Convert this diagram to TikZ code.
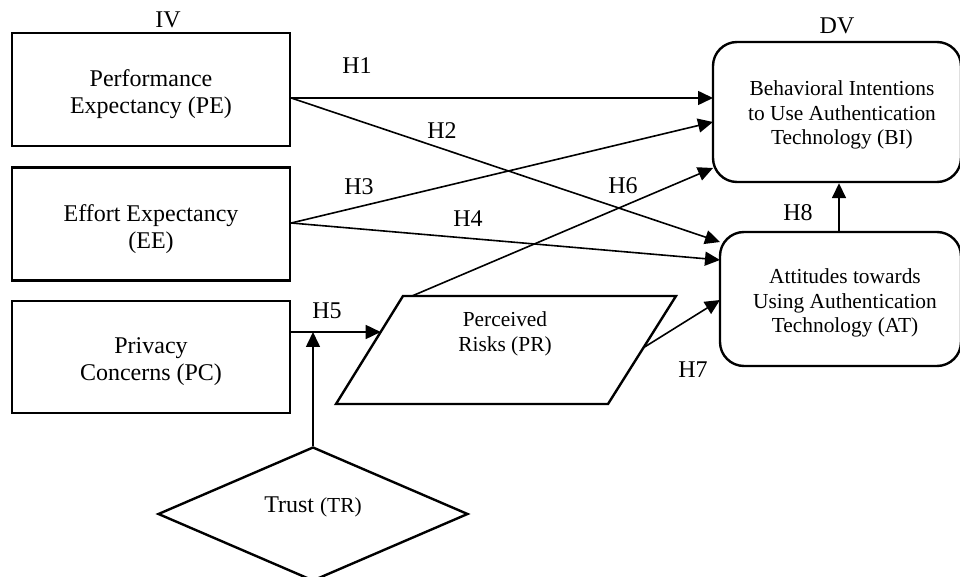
\documentclass[tikz,border=0pt]{standalone}
\usepackage{fontspec}
\setmainfont{Liberation Serif}
\usetikzlibrary{arrows.meta,shapes.geometric}

\begin{document}
\begin{tikzpicture}[x=0.5pt,y=-0.5pt,
  every node/.style={font=\fontsize{12}{13.5}\selectfont},
  smalltext/.style={font=\fontsize{10.7}{12.25}\selectfont},
  sqbox/.style={draw,line width=1.2pt,rectangle,inner sep=0pt,minimum width=139pt},
  rndbox/.style={draw,line width=1.2pt,rectangle,rounded corners=12pt,inner sep=0pt},
  boxtext/.style={align=center,inner sep=0pt},
  link/.style={line width=0.8pt,-{Triangle[length=7.5pt,width=7pt]}},
  hlabel/.style={inner sep=0pt}
]
\useasboundingbox (0,0) rectangle (960,577);

% independent variables
\node[sqbox,minimum height=56.5pt] (PE) at (151,89.5) {};
\node[boxtext] (PEt) at ([yshift=-2.5pt]PE.center) {Performance\\Expectancy (PE)};
\node[sqbox,minimum height=56.5pt] (EE) at (151,224) {};
\node[boxtext] (EEt) at ([yshift=-2.5pt]EE.center) {Effort Expectancy\\(EE)};
\node[sqbox,minimum height=56pt] (PC) at (151,357) {};
\node[boxtext] (PCt) at ([yshift=-2.5pt]PC.center) {Privacy\\Concerns (PC)};
\node[hlabel] (IV) at (168,20) {IV};

% dependent variables
\node[rndbox,minimum width=124pt,minimum height=70pt] (BI) at (837,112) {};
\node[boxtext,smalltext] (BIt) at ([xshift=2.5pt,yshift=-1.5pt]BI.center)
  {Behavioral Intentions\\to Use Authentication\\Technology (BI)};
\node[rndbox,minimum width=120.5pt,minimum height=67pt] (AT) at (840.5,299) {};
\node[boxtext,smalltext] (ATt) at ([xshift=2.25pt,yshift=-2pt]AT.center)
  {Attitudes towards\\Using Authentication\\Technology (AT)};
\node[hlabel] (DV) at (837,26) {DV};

% perceived risks (parallelogram)
\coordinate (PRtl) at (403,296);
\coordinate (PRtr) at (676,296);
\coordinate (PRbr) at (608,404);
\coordinate (PRbl) at (336,404);
\draw[line width=1.2pt,line join=miter] (PRtl) -- (PRtr) -- (PRbr) -- (PRbl) -- cycle;
\node[boxtext,smalltext] (PR) at (505,334) {Perceived\\Risks (PR)};
\coordinate (PRin)  at (380.7,332);
\coordinate (PRtop) at (412,296);
\coordinate (PRout) at (643,348);

% trust (diamond)
\node[draw,diamond,line width=1.2pt,inner sep=0pt,minimum width=155pt,
  minimum height=67pt] (TR) at (313,514) {};
\node (TRtext) at (313,507) {Trust {\fontsize{10.7}{12}\selectfont(TR)}};
\coordinate (H5j) at (313,332);

% hypothesised paths
\draw[link] ([yshift=-4.25pt]PE.east) -- (713,98);
\draw[link] ([yshift=-4.25pt]PE.east) -- (720,242);
\draw[link] ([yshift=0.5pt]EE.east) -- (713,122);
\draw[link] ([yshift=0.5pt]EE.east) -- (720,260);
\draw[link] ([yshift=12.5pt]PC.east) -- (PRin);
\draw[link] (TR.north) -- (H5j);
\draw[link] (PRtop) -- (713,168);
\draw[link] (PRout) -- (720,300);
\draw[link] (AT.north -| 839,0) -- (BI.south -| 839,0);

% path labels
\node[hlabel] (H1) at (357,66) {H1};
\node[hlabel] (H2) at (442,131) {H2};
\node[hlabel] (H3) at (359,187) {H3};
\node[hlabel] (H4) at (468,219) {H4};
\node[hlabel] (H5) at (327,311) {H5};
\node[hlabel] (H6) at (623,186) {H6};
\node[hlabel] (H7) at (693,370) {H7};
\node[hlabel] (H8) at (798,213) {H8};
\end{tikzpicture}
\end{document}
